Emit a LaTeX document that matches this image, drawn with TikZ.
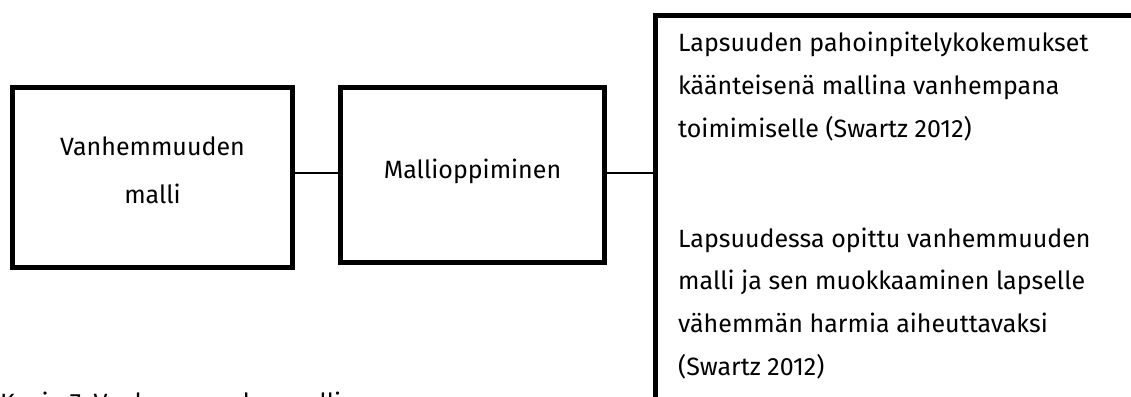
\documentclass[tikz,border=0pt]{standalone}
\usepackage{fontspec}
\setmainfont{Fira Sans}
\begin{document}
\begin{tikzpicture}[x=1pt,y=-1pt,
  box/.style={draw=black,line width=5pt,inner sep=0pt},
  conn/.style={draw=black,line width=1.6pt},
  txt/.style={anchor=base west,inner sep=0pt,font=\fontsize{25}{30}\selectfont},
  ctxt/.style={anchor=base,inner sep=0pt,font=\fontsize{25}{30}\selectfont}]
\useasboundingbox (0,0) rectangle (1131,396);
\clip (0,0) rectangle (1131,396);
\node[box,minimum width=280pt,minimum height=180pt] (b1) at (152.5,177.5) {};
\node[box,minimum width=264pt,minimum height=175pt] (b2) at (472.5,175) {};
\node[ctxt] (b1a) at (152.5,155) {Vanhemmuuden};
\node[ctxt] (b1b) at (152.5,203) {malli};
\node[ctxt] (b2a) at (472.5,178) {Mallioppiminen};
\coordinate (lvl) at (0,173);
\coordinate (rb) at (655.5,173);
\coordinate (rbtop) at (655.5,15.5);
\coordinate (rbbot) at (655.5,420);
\coordinate (rbright) at (1150,15.5);
\draw[line width=5pt] (rbbot) -- (rbtop) -- (rbright);
\draw[conn] (b1.east |- lvl) -- (b2.west |- lvl);
\draw[conn] (b2.east |- lvl) -- (rb);
\node[txt] (t1) at (678,52) {Lapsuuden pahoinpitelykokemukset};
\node[txt] (t2) at (678,94.5) {k\"a\"anteisen\"a mallina vanhempana};
\node[txt] (t3) at (678,137) {toimimiselle (Swartz 2012)};
\node[txt] (t4) at (678,247) {Lapsuudessa opittu vanhemmuuden};
\node[txt] (t5) at (678,289.5) {malli ja sen muokkaaminen lapselle};
\node[txt] (t6) at (678,332) {v\"ahemm\"an harmia aiheuttavaksi};
\node[txt] (t7) at (678,375) {(Swartz 2012)};
\node[txt] (cap) at (0,411) {Kuvio 7. Vanhemmuuden malli};
\end{tikzpicture}
\end{document}
